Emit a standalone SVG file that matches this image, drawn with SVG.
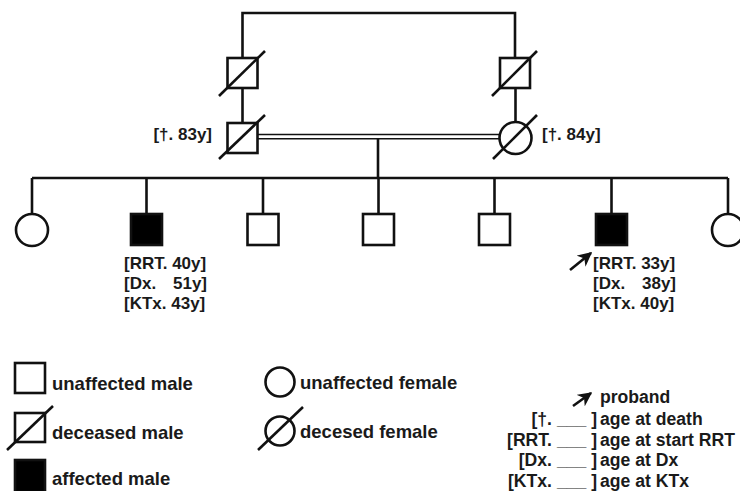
<svg xmlns="http://www.w3.org/2000/svg" width="740" height="491" viewBox="0 0 740 491">
  <style>
    .ln { stroke: #111; stroke-width: 2.6; fill: none; }
    .thin { stroke: #111; stroke-width: 1.6; fill: none; }
    .sym { stroke: #111; stroke-width: 2.6; fill: #fff; }
    .aff { stroke: #111; stroke-width: 2.6; fill: #000; }
    .dead { stroke: #111; stroke-width: 2.6; }
    .lbl { font-family: "Liberation Sans", Arial, sans-serif; font-weight: bold; font-size: 17px; fill: #1a1a1a; }
    .leg { font-family: "Liberation Sans", Arial, sans-serif; font-weight: bold; font-size: 18.5px; fill: #1a1a1a; }
    .key { font-family: "Liberation Sans", Arial, sans-serif; font-weight: bold; font-size: 17.6px; fill: #1a1a1a; }
  </style>
  <defs>
    <marker id="arrowhead" viewBox="0 0 10 10" refX="9" refY="5" markerWidth="5.5" markerHeight="5.5" orient="auto" markerUnits="strokeWidth">
      <path d="M0,0 L10,5 L0,10 L3,5 Z" fill="#111"/>
    </marker>
  </defs>
  <rect width="740" height="491" fill="#fff"/>

  <!-- connectors -->
  <g id="connectors">
    <!-- grandparent sibship -->
    <polyline class="ln" points="242.5,58 242.5,13 515,13 515,58"/>
    <line class="ln" x1="242.5" y1="88" x2="242.5" y2="123"/>
    <line class="ln" x1="515.5" y1="88" x2="515.5" y2="122"/>
    <!-- consanguineous marriage (double line) -->
    <line class="thin" x1="258" y1="134.5" x2="500" y2="134.5"/>
    <line class="thin" x1="258" y1="138.8" x2="500" y2="138.8"/>
    <!-- line of descent -->
    <line class="ln" x1="378" y1="138.8" x2="378" y2="178"/>
    <!-- sibship line -->
    <line class="ln" x1="32" y1="178" x2="728" y2="178"/>
    <line class="ln" x1="32" y1="178" x2="32" y2="214"/>
    <line class="ln" x1="146.5" y1="178" x2="146.5" y2="214"/>
    <line class="ln" x1="263" y1="178" x2="263" y2="214"/>
    <line class="ln" x1="378.5" y1="178" x2="378.5" y2="214"/>
    <line class="ln" x1="494.5" y1="178" x2="494.5" y2="214"/>
    <line class="ln" x1="611.5" y1="178" x2="611.5" y2="214"/>
    <line class="ln" x1="728" y1="178" x2="728" y2="214"/>
  </g>

  <!-- generation I -->
  <g id="gp-left">
    <rect class="sym" x="227.5" y="58" width="30" height="30"/>
    <line class="dead" x1="219" y1="96" x2="265" y2="51"/>
  </g>
  <g id="gp-right">
    <rect class="sym" x="500" y="58" width="30" height="30"/>
    <line class="dead" x1="492" y1="96" x2="537" y2="51"/>
  </g>

  <!-- generation II -->
  <g id="father">
    <rect class="sym" x="227.5" y="123" width="30" height="30"/>
    <line class="dead" x1="219" y1="159" x2="265" y2="115"/>
    <text class="lbl" x="212" y="140" text-anchor="end">[†. 83y]</text>
  </g>
  <g id="mother">
    <circle class="sym" cx="515.5" cy="138" r="16"/>
    <line class="dead" x1="493" y1="159" x2="537" y2="115"/>
    <text class="lbl" x="542" y="140">[†. 84y]</text>
  </g>

  <!-- generation III -->
  <g id="child-1">
    <circle class="sym" cx="32" cy="230" r="16"/>
  </g>
  <g id="child-2">
    <rect class="aff" x="131" y="214" width="31" height="31"/>
    <text class="lbl" x="124" y="269">[RRT. 40y]</text>
    <text class="lbl" x="124" y="289">[Dx.</text>
    <text class="lbl" x="207" y="289" text-anchor="end">51y]</text>
    <text class="lbl" x="124" y="309">[KTx. 43y]</text>
  </g>
  <g id="child-3">
    <rect class="sym" x="247.5" y="214" width="31" height="31"/>
  </g>
  <g id="child-4">
    <rect class="sym" x="363" y="214" width="31" height="31"/>
  </g>
  <g id="child-5">
    <rect class="sym" x="479" y="214" width="31" height="31"/>
  </g>
  <g id="child-6-proband">
    <rect class="aff" x="596" y="214" width="31" height="31"/>
    <line class="ln" x1="570" y1="270" x2="591" y2="253" marker-end="url(#arrowhead)"/>
    <text class="lbl" x="593" y="269">[RRT. 33y]</text>
    <text class="lbl" x="593" y="289">[Dx.</text>
    <text class="lbl" x="676" y="289" text-anchor="end">38y]</text>
    <text class="lbl" x="593" y="309">[KTx. 40y]</text>
  </g>
  <g id="child-7">
    <circle class="sym" cx="728" cy="230" r="16"/>
  </g>

  <!-- legend -->
  <g id="legend-unaffected-male">
    <rect class="sym" x="15" y="363" width="30" height="30"/>
    <text class="leg" x="52" y="390">unaffected male</text>
  </g>
  <g id="legend-deceased-male">
    <rect class="sym" x="15" y="413" width="30" height="29"/>
    <line class="dead" x1="7" y1="450" x2="53" y2="406"/>
    <text class="leg" x="52" y="439">deceased male</text>
  </g>
  <g id="legend-affected-male">
    <rect class="aff" x="15" y="460" width="30" height="32"/>
    <text class="leg" x="52" y="485">affected male</text>
  </g>
  <g id="legend-unaffected-female">
    <circle class="sym" cx="280" cy="382" r="14.5"/>
    <text class="leg" x="300" y="389">unaffected female</text>
  </g>
  <g id="legend-deceased-female">
    <circle class="sym" cx="280" cy="431" r="14.5"/>
    <line class="dead" x1="258" y1="450" x2="303" y2="407"/>
    <text class="leg" x="300" y="438">decesed female</text>
  </g>
  <g id="legend-keys">
    <line class="ln" x1="573" y1="406" x2="591" y2="393" marker-end="url(#arrowhead)"/>
    <text class="key" x="600" y="403">proband</text>
    <text class="key" x="597" y="425" text-anchor="end">[†. ___ ]</text>
    <text class="key" x="600" y="425">age at death</text>
    <text class="key" x="597" y="446" text-anchor="end">[RRT. ___ ]</text>
    <text class="key" x="600" y="446">age at start RRT</text>
    <text class="key" x="597" y="466" text-anchor="end">[Dx. ___ ]</text>
    <text class="key" x="600" y="466">age at Dx</text>
    <text class="key" x="597" y="487" text-anchor="end">[KTx. ___ ]</text>
    <text class="key" x="600" y="487">age at KTx</text>
  </g>
</svg>
